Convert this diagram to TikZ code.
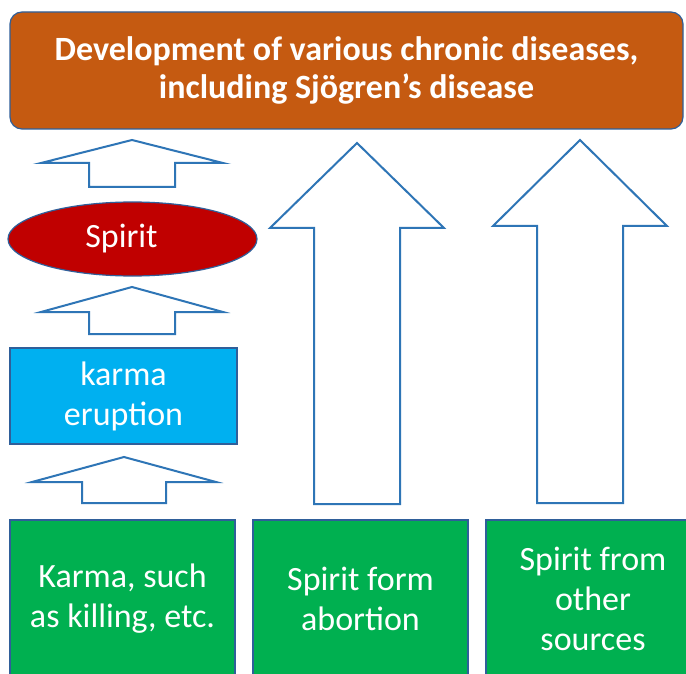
\documentclass[tikz,border=0pt]{standalone}
\usepackage{fontspec}
\setmainfont{Carlito}
\usepackage{tikz}
\usetikzlibrary{shapes.geometric}

\definecolor{rustorange}{HTML}{C55A11}
\definecolor{spiritred}{HTML}{C00000}
\definecolor{skyblue}{HTML}{00B0F0}
\definecolor{leafgreen}{HTML}{00B050}
\definecolor{edgeblue}{HTML}{2F5F9A}
\definecolor{arrowblue}{HTML}{2E75B6}

\begin{document}
\begin{tikzpicture}[
    x=1pt, y=-1pt, % pixel-like units, y downwards
    every node/.style={text=white, align=center, font=\fontsize{34}{40}\selectfont},
    box/.style={draw=edgeblue, line width=1.2pt, inner sep=0pt},
    blockarrow/.style={draw=arrowblue, line width=2pt, fill=white, line join=miter}
  ]
    \useasboundingbox[fill=white] (0,0) rectangle (686,674);

    % top result box
    \node[box, fill=rustorange, rounded corners=12pt, minimum width=673pt, minimum height=117pt,
          font=\bfseries\fontsize{34}{38}\selectfont] (disease) at (346.5,70.5)
          {Development of various chronic diseases,\\including Sj\"ogren's disease};

    % left chain
    \node[box, ellipse, fill=spiritred, minimum width=249pt, minimum height=74pt] (spirit) at (132.5,239) {Spirit\hspace{22pt}};
    \node[box, fill=skyblue, minimum width=227pt, minimum height=96pt] (eruption) at (123.5,396) {karma\\eruption};

    % bottom sources
    \node[box, fill=leafgreen, minimum width=225pt, minimum height=158pt] (karma) at (122.5,599) {Karma, such\\as killing, etc.};
    \node[box, fill=leafgreen, minimum width=215pt, minimum height=158pt] (abortion) at (360.5,599) {Spirit form\\abortion};
    \node[box, fill=leafgreen, minimum width=214pt, minimum height=158pt] (sources) at (593,599) {Spirit from\\other\\sources};

    % block arrows: tip x / tip y / half head / head base / half shaft / bottom
    \foreach \tx/\ty/\hh/\hb/\hs/\bt in {132/140/91/163/43/187, 132/287/91/312/43/334,
                                          124/457/92/482/42/503, 357/143/87/228/43/504,
                                          580/140/87/226/43/503}
      \draw[blockarrow] (\tx,\ty) -- (\tx+\hh,\hb) -- (\tx+\hs,\hb) -- (\tx+\hs,\bt)
          -- (\tx-\hs,\bt) -- (\tx-\hs,\hb) -- (\tx-\hh,\hb) -- cycle;
\end{tikzpicture}
\end{document}
